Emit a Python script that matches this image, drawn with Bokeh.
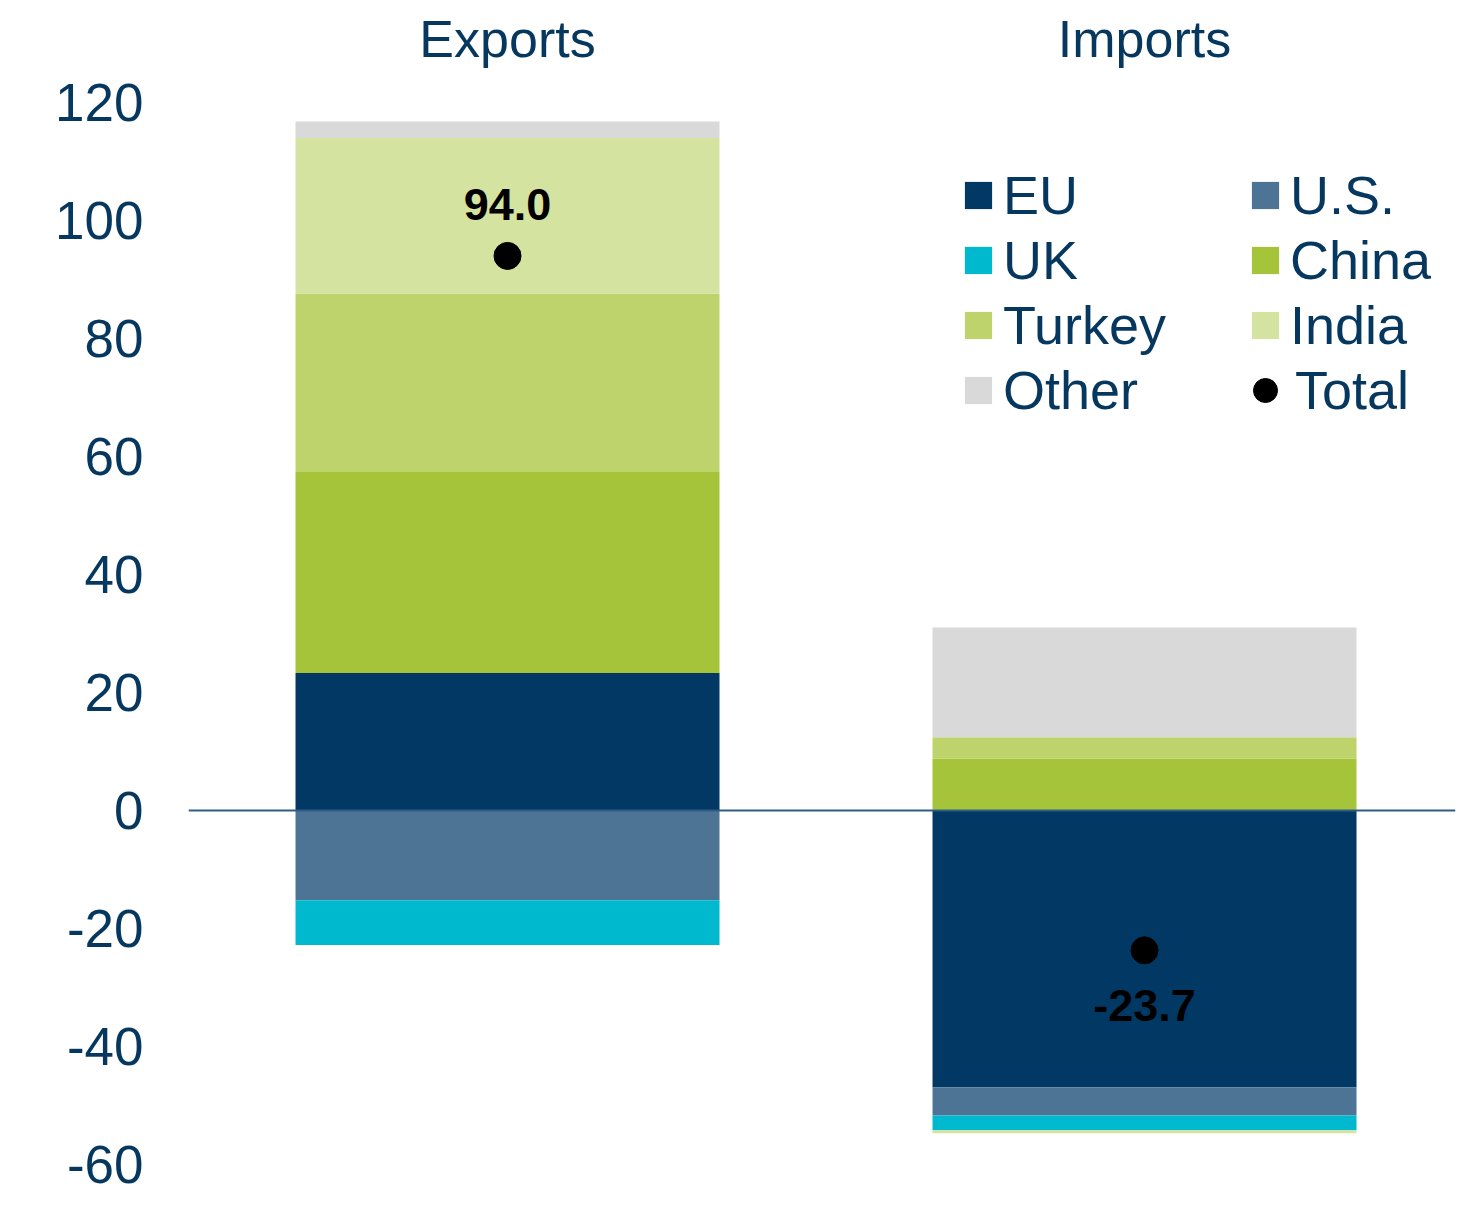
from bokeh.plotting import figure
from bokeh.models import ColumnDataSource, FixedTicker, Range1d, Span, Legend, LegendItem
from bokeh.core.properties import value
from bokeh.embed import file_html
from bokeh.resources import INLINE

# ---- data ----
categories = ["Exports", "Imports"]
eu = [23.3, -46.9]
us = [-15.2, -4.8]
uk = [-7.6, -2.5]
china = [34.2, 8.8]
turkey = [30.1, 3.6]
india = [26.4, -0.5]
other = [2.8, 18.6]
totals = [94.0, -23.7]
y_ticks = [-60, -40, -20, 0, 20, 40, 60, 80, 100, 120]

series_names = ["EU", "U.S.", "UK", "China", "Turkey", "India", "Other"]
series_values = [eu, us, uk, china, turkey, india, other]
colors = ["#023864", "#4E7495", "#00B9CF", "#A6C43A", "#BED36B", "#D4E39F", "#D9D9D9"]

NAVY = "#06375f"
FONT = "Liberation Sans"

W, H = 1456, 1196
LEFT = 188
x_pos = list(range(len(categories)))

p = figure(x_range=Range1d(-0.5008, 1.4882), y_range=Range1d(-65.42, 137.29),
           width=W, height=H, output_backend="svg", toolbar_location=None,
           x_axis_location=None, min_border_left=LEFT, min_border_right=1,
           min_border_top=0, min_border_bottom=0)
p.outline_line_color = None
p.xgrid.visible = False
p.ygrid.visible = False
p.background_fill_color = "white"

ax = p.yaxis[0]
ax.ticker = FixedTicker(ticks=y_ticks)
ax.major_label_overrides = {t: str(t) for t in y_ticks}
ax.axis_line_color = None
ax.major_tick_line_color = None
ax.minor_tick_line_color = None
ax.major_tick_out = 0
ax.major_label_standoff = 45
ax.major_label_text_font = FONT
ax.major_label_text_font_size = "53px"
ax.major_label_text_color = NAVY

# stacked bars (positives stacked up from 0, negatives stacked down from 0)
pos_base = [0.0] * len(categories)
neg_base = [0.0] * len(categories)
renderers = {}
for name, vals, col in zip(series_names, series_values, colors):
    bottoms, tops = [], []
    for i, v in enumerate(vals):
        if v >= 0:
            bottoms.append(pos_base[i]); tops.append(pos_base[i] + v); pos_base[i] += v
        else:
            bottoms.append(neg_base[i] + v); tops.append(neg_base[i]); neg_base[i] += v
    src = ColumnDataSource(dict(x=x_pos, bottom=bottoms, top=tops))
    renderers[name] = p.vbar(x="x", bottom="bottom", top="top", width=0.6656, source=src,
                             fill_color=col, line_color=None)

p.add_layout(Span(location=0, dimension="width", line_color="#2e5d86", line_width=2))

# totals
r_total = p.scatter(x=x_pos, y=totals, size=27, color="black")
lab_src = ColumnDataSource(dict(x=x_pos, y=totals,
                                text=[f"{t:.1f}" for t in totals],
                                off=[-51 if t >= 0 else 55 for t in totals]))
p.text(x="x", y="y", text="text", y_offset="off", source=lab_src, text_align="center",
       text_baseline="middle", text_font=value(FONT), text_font_style="bold",
       text_font_size="45px", text_color="black")

# category headers
p.text(x=x_pos, y=[130.7] * len(categories), text=categories, text_align="center",
       text_baseline="middle", text_font=value(FONT), text_font_size="52px", text_color=NAVY)


def make_legend(items, loc, gw=34, gh=34, standoff=8):
    leg = Legend(items=items, location=loc, glyph_width=gw, glyph_height=gh,
                 label_standoff=standoff, label_height=65, spacing=0, padding=0, margin=0,
                 border_line_color=None, background_fill_alpha=0,
                 label_text_font=FONT, label_text_font_size="54px", label_text_color=NAVY)
    p.add_layout(leg)
    return leg


def items_for(names):
    return [LegendItem(label=n, renderers=[renderers[n]]) for n in names]


make_legend(items_for(["EU", "UK", "Turkey", "Other"]), (773, 774))
make_legend(items_for(["U.S.", "China", "India"]), (1060, 839))
make_legend([LegendItem(label="Total", renderers=[r_total])], (1047, 773), gw=60, gh=66, standoff=0)

open("out.html", "w").write(file_html(p, INLINE))
